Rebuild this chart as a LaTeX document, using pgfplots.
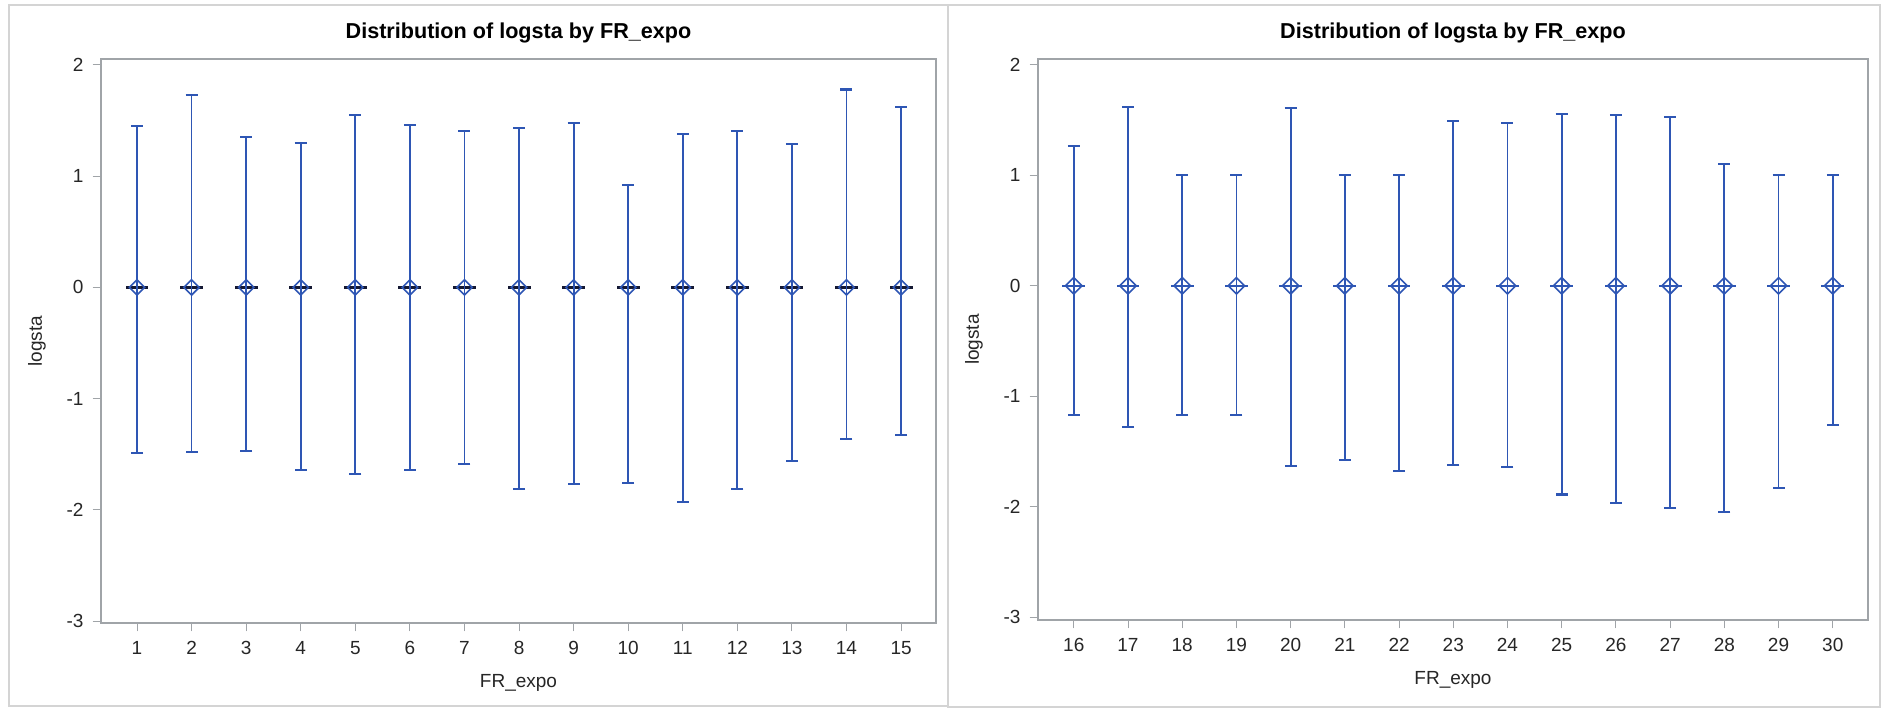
\documentclass[border=0pt]{standalone}
\usepackage{fontspec}
\setmainfont{Liberation Sans}
\usepackage{pgfplots}
\usepackage{pgfplotstable}
\pgfplotsset{compat=1.18}
\definecolor{sasblue}{RGB}{46,86,180}
\definecolor{axgray}{RGB}{160,164,168}
\definecolor{bordergray}{RGB}{212,212,212}
\definecolor{boxdark}{RGB}{20,24,50}

\pgfplotstableread{
x mean up lo
1 0 1.449 1.49
2 0 1.727 1.48
3 0 1.355 1.47
4 0 1.301 1.64
5 0 1.553 1.68
6 0 1.460 1.64
7 0 1.409 1.59
8 0 1.436 1.81
9 0 1.476 1.77
10 0 0.918 1.76
11 0 1.382 1.93
12 0 1.41 1.81
13 0 1.29 1.56
14 0 1.78 1.36
15 0 1.62 1.33
}\leftdata

\pgfplotstableread{
x mean up lo
16 0 1.266 1.17
17 0 1.622 1.28
18 0 1.0 1.17
19 0 1.0 1.17
20 0 1.611 1.63
21 0 1.0 1.58
22 0 1.0 1.68
23 0 1.490 1.62
24 0 1.477 1.64
25 0 1.559 1.89
26 0 1.544 1.97
27 0 1.529 2.01
28 0 1.103 2.05
29 0 1.0 1.83
30 0 1.0 1.26
}\rightdata

\pgfplotsset{
  sasaxis/.style={
    scale only axis,
    anchor=south west,
    ymin=-3.018, ymax=2.054,
    ytick={-3,-2,-1,0,1,2},
    axis line style={axgray, line width=0.6pt},
    tick style={axgray, line width=0.5pt},
    major tick length=4.2pt,
    tick align=outside,
    xtick pos=bottom, ytick pos=left,
    tick label style={font=\fontsize{9.5}{11}\selectfont, text=black!85},
    /pgf/number format/assume math mode=true,
    yticklabel style={xshift=-1pt},
    xticklabel style={yshift=-1.5pt},
    label style={font=\fontsize{9.5}{11}\selectfont, text=black!85},
    xlabel={FR\_expo}, ylabel={logsta},
    xlabel style={at={([yshift=-30pt]axis description cs:0.5,0)}, anchor=center},
    ylabel style={at={([xshift=-32pt]axis description cs:0,0.5)}, anchor=center},
    every axis title shift=0pt,
    title={Distribution of logsta by FR\_expo},
    title style={at={(axis description cs:0.5,1)}, anchor=center, yshift=13pt, font=\fontsize{10.8}{12}\selectfont\bfseries},
    clip=false,
  },
}

\begin{document}
\begin{tikzpicture}
\path (0,0) rectangle (940.5pt,354pt);
\draw[bordergray, line width=0.6pt] (4.5pt,1pt) rectangle (474pt,351.5pt);
\draw[bordergray, line width=0.6pt] (474pt,0.5pt) rectangle (940pt,351.5pt);

\begin{axis}[sasaxis,
  at={(50.5pt,42.5pt)}, width=417.5pt, height=282pt,
  xmin=0.34, xmax=15.64, xtick={1,...,15}]
\addplot[draw=none, mark=none, error bars/.cd, x dir=both, x fixed=0.21,
  error mark=none, error bar style={boxdark, line width=1.5pt}]
  table[x=x, y=mean] {\leftdata};
\addplot[draw=none, mark=none, error bars/.cd, y dir=both, y explicit,
  error bar style={sasblue, line width=0.9pt},
  error mark options={rotate=90, mark size=3pt, sasblue, line width=1.1pt}]
  table[x=x, y=mean, y error plus=up, y error minus=lo] {\leftdata};
\addplot[only marks, mark=square, mark size=2.7pt,
  mark options={rotate=45, sasblue, line width=0.8pt, fill=none}]
  table[x=x, y=mean] {\leftdata};
\end{axis}

\begin{axis}[sasaxis,
  at={(519pt,44pt)}, width=415pt, height=280.5pt,
  ymin=-3.027,
  xmin=15.34, xmax=30.65, xtick={16,...,30}]
\addplot[draw=none, mark=none, error bars/.cd, x dir=both, x fixed=0.21,
  error mark=none, error bar style={sasblue, line width=0.9pt}]
  table[x=x, y=mean] {\rightdata};
\addplot[draw=none, mark=none, error bars/.cd, y dir=both, y explicit,
  error bar style={sasblue, line width=0.9pt},
  error mark options={rotate=90, mark size=3pt, sasblue, line width=1.1pt}]
  table[x=x, y=mean, y error plus=up, y error minus=lo] {\rightdata};
\addplot[only marks, mark=square, mark size=2.9pt,
  mark options={rotate=45, sasblue, line width=0.8pt, fill=none}]
  table[x=x, y=mean] {\rightdata};
\end{axis}
\end{tikzpicture}
\end{document}
